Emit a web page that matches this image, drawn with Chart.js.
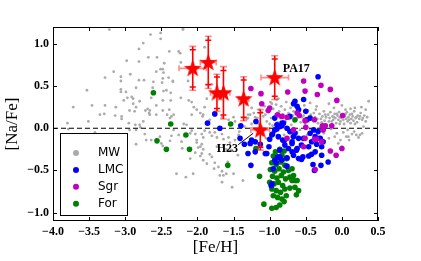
<!DOCTYPE html>
<html><head><meta charset="utf-8">
<script src="https://cdn.jsdelivr.net/npm/chart.js@4.4.0/dist/chart.umd.min.js"></script>
<style>html,body{margin:0;padding:0;background:#fff;}#wrap{width:421px;height:261px;}</style>
</head><body><div id="wrap"><canvas id="c" width="421" height="261"></canvas></div>
<script>
const xTicks=[-4.0,-3.5,-3.0,-2.5,-2.0,-1.5,-1.0,-0.5,0.0,0.5];
const yTicks=[-1.0,-0.5,0.0,0.5,1.0];
const seriesNames=['MW','LMC','Sgr','For'];

const mwPoints=[
[-3.22,1.17],[-2.65,1.11],[-2.51,1.13],[-2.51,1.06],[-2.20,1.17],[-2.75,1.01],[-2.81,0.94],[-2.39,0.91],[-2.26,0.91],[-2.98,0.80],[-2.81,0.79],[-2.68,0.84],[-2.56,0.84],[-2.46,0.77],[-2.51,0.70],[-2.48,0.70],[-2.57,0.67],[-2.47,0.66],[-2.23,0.78],[-3.16,0.67],[-2.93,0.64],[-3.06,0.61],[-3.28,0.60],[-3.06,0.56],[-2.81,0.57],[-2.74,0.57],[-2.61,0.55],[-2.40,0.60],[-2.34,0.55],[-2.48,0.59],[-2.13,0.56],[-3.53,0.45],[-2.85,0.48],[-2.62,0.48],[-3.06,0.46],[-3.06,0.43],[-2.99,0.43],[-2.43,0.45],[-2.37,0.42],[-2.64,0.36],[-2.23,0.36],[-2.97,0.36],[-2.91,0.37],[-2.89,0.35],[-3.02,0.33],[-2.80,0.32],[-2.48,0.33],[-2.37,0.33],[-2.12,0.33],[-2.89,0.29],[-2.57,0.27],[-3.46,0.27],[-3.28,0.27],[-3.13,0.25],[-3.72,0.25],[-2.85,0.25],[-2.69,0.23],[-2.66,0.21],[-2.72,0.21],[-2.94,0.21],[-2.87,0.20],[-2.48,0.21],[-2.39,0.22],[-3.29,0.17],[-3.35,0.16],[-3.14,0.15],[-3.05,0.14],[-3.05,0.11],[-2.67,0.18],[-2.66,0.16],[-2.75,0.08],[-2.57,0.16],[-2.42,0.16],[-2.36,0.14],[-2.38,0.12],[-2.33,0.16],[-2.95,0.06],[-2.86,0.04],[-2.80,0.04],[-3.80,0.06],[-3.51,0.08],[-2.19,0.05],[-2.15,0.04],[-2.20,1.18],[-2.24,0.89],[-2.49,0.54],[-2.34,0.56],[-2.47,0.44],[-1.93,0.14],
[-3.79,-0.01],[-3.42,-0.05],[-3.19,-0.09],[-3.17,-0.14],[-3.25,-0.14],[-3.10,-0.11],[-3.01,-0.14],[-2.94,-0.02],[-2.85,-0.02],[-2.79,0.01],[-2.73,-0.07],[-2.71,-0.14],[-2.85,-0.19],[-2.64,-0.14],[-2.52,-0.10],[-2.50,-0.18],[-2.38,-0.15],[-2.36,-0.09],[-2.48,-0.21],[-2.21,-0.24],[-2.29,-0.54],[-2.16,-0.58],
[-1.90,0.96],[-1.80,0.52],[-1.87,0.35],[-2.08,0.31],[-2.05,0.25],[-2.01,0.22],[-2.08,0.16],[-1.96,0.18],[-1.92,0.16],[-1.90,0.25],[-1.83,0.10],[-1.66,0.13],[-1.57,0.10],[-1.50,0.13],[-1.48,0.08],[-1.32,0.11],[-1.27,0.16],[-1.20,0.13],[-1.18,0.10],[-1.11,0.19],[-1.06,0.16],[-0.97,0.29],[-0.88,0.35],[-0.90,0.34],
[-2.08,-0.03],[-2.03,-0.07],[-1.94,-0.07],[-1.92,-0.11],[-1.90,-0.03],[-1.83,-0.05],[-1.80,-0.09],[-1.76,-0.05],[-1.73,-0.11],[-1.66,-0.07],[-1.64,-0.13],[-1.57,-0.11],[-2.01,-0.17],[-1.94,-0.19],[-1.99,-0.23],[-1.92,-0.25],[-2.03,-0.29],[-1.96,-0.33],[-1.83,-0.31],[-1.64,-0.21],[-1.60,-0.25],[-1.55,-0.17],[-1.76,-0.41],[-1.71,-0.46],[-1.66,-0.51],[-1.64,-0.56],[-1.60,-0.54],[-1.66,-0.64],[-1.50,-0.54],
[-2.33,-0.02],[-2.26,-0.08],[-2.22,-0.16],[-2.10,-0.06],[-2.01,-0.14],[-1.96,-0.22],[-1.94,-0.30],[-1.92,-0.38],[-1.87,-0.42],[-1.80,-0.34],[-1.77,-0.48],[-1.69,-0.56],[-1.73,-0.22],[-1.53,-0.26],[-1.48,-0.14],[-1.43,-0.08],[-2.06,-0.54],[-2.10,-0.36],
[-1.32,0.28],[-1.25,0.24],[-1.30,0.16],[-1.18,0.09],[-1.20,-0.18],[-1.25,-0.20],[-1.35,0.02],[-1.42,-0.04],[-1.15,0.05],[-1.10,-0.08],[-1.05,-0.12],[-1.00,0.05],[-1.44,-0.32],[-1.37,-0.62],[-1.52,-0.70],[-1.58,-0.40],
[-1.30,0.12],[-1.25,0.05],[-1.22,0.18],[-1.17,0.12],[-1.14,0.22],[-1.12,0.02],[-1.09,0.14],[-1.07,0.26],[-1.04,0.08],[-1.02,0.19],[-0.99,0.31],[-0.98,0.12],[-0.96,0.03],[-0.95,0.23],[-0.92,0.16],[-0.91,0.28],[-0.89,0.07],[-0.87,0.20],[-0.86,0.12],[-0.84,0.26],[-0.83,0.02],[-0.81,0.16],[-0.79,0.22],[-0.78,0.08],[-0.77,0.31],[-0.74,0.18],[-0.73,0.11],[-0.71,0.24],[-0.70,0.04],[-0.68,0.15],[-0.67,0.20],[-0.66,0.08],[-0.64,0.27],
[-0.63,0.11],[-0.59,0.19],[-0.57,0.07],[-0.53,0.15],[-0.49,0.12],[-0.47,0.21],[-0.46,0.08],[-0.43,0.16],[-0.41,0.10],[-0.37,0.13],[-0.36,0.22],[-0.33,0.06],[-0.31,0.17],[-0.29,0.11],[-0.27,0.14],[-0.25,0.20],[-0.24,0.09],[-0.22,0.13],[-0.21,0.04],[-0.19,0.16],[-0.17,0.12],[-0.16,0.19],[-0.14,0.08],[-0.13,0.14],[-0.12,0.10],[-0.10,0.17],[-0.09,0.12],[-0.08,0.06],[-0.06,0.15],[-0.05,0.10],[-0.04,0.19],[-0.03,0.13],[-0.02,0.08],[-0.01,0.12],[0.01,0.16],[0.02,0.10],[0.03,0.05],[0.04,0.14],[0.06,0.11],[0.07,0.19],[0.08,0.08],[0.09,0.13],[0.11,0.16],[0.12,0.06],[0.13,0.11],[0.15,0.14],[0.16,0.09],[0.17,0.20],[0.19,0.12],[0.21,0.07],[0.22,0.15],[0.24,0.11],[0.26,0.18],[0.28,0.10],[0.31,0.15],[0.33,0.08],
[-0.55,0.13],[-0.51,0.05],[-0.45,0.14],[-0.39,0.18],[-0.34,0.11],[-0.28,0.07],[-0.23,0.16],[-0.18,0.08],[-0.11,0.13],[-0.07,0.17],[-0.03,0.05],[0.00,0.14],[0.05,0.17],[0.10,0.10],[0.14,0.17],[0.18,0.05],[0.20,0.13],[0.25,0.14],[0.29,0.12],[0.35,0.13],
[-0.52,0.27],[-0.44,0.30],[-0.35,0.26],[-0.18,0.29],[-0.11,0.24],[0.00,0.27],[0.05,0.22],[0.12,0.23],[0.18,0.24],[0.27,0.25],[0.33,0.22],[0.37,0.32],
[-0.58,-0.02],[-0.44,-0.01],[-0.30,0.01],[-0.15,-0.01],[-0.07,-0.06],[0.02,-0.05],[0.08,-0.02],[0.17,-0.04],[0.23,-0.11],[0.30,0.02],[0.14,-0.07],[0.09,-0.10],[0.25,-0.08],
[-0.95,-0.05],[-0.88,-0.12],[-0.80,-0.08],[-0.70,-0.10],[-0.62,-0.05],[-0.55,-0.14],[-0.48,-0.08],[-0.32,-0.10],[-0.25,-0.06],[-0.18,-0.12],[-0.10,-0.10],[-0.02,-0.14],[0.06,-0.10],[0.10,-0.14],[0.20,-0.08],[-0.05,-0.18],[0.00,-0.22],[0.28,-0.06]
];

const lmcPoints=[
[-1.76,0.17],[-1.86,0.06],[-1.69,0.00],[-1.40,0.03],[-1.19,0.08],[-1.41,-0.12],[-1.35,-0.19],[-1.27,-0.18],[-1.30,-0.30],[-1.20,-0.28],[-1.04,-0.30],[-1.26,-0.44],[-0.91,-0.41],[-0.95,-0.48],[-0.98,-0.68],[-1.20,-0.16],[-1.25,-0.14],[-1.13,-0.19],[-1.00,-0.13],[-0.96,-0.07],[-0.90,-0.01],[-0.83,0.03],[-0.80,-0.15],[-0.76,-0.35],[-0.76,-0.45],[-1.06,-0.30],[-1.01,-0.22],[-0.90,0.04],[-0.86,0.02],[-0.81,0.06],[-0.76,0.00],[-0.88,-0.10],[-0.82,-0.14],[-0.72,-0.04],[-0.65,-0.06],[-0.60,-0.12],[-0.69,-0.16],[-0.79,-0.20],[-0.74,-0.24],[-0.86,-0.26],[-0.89,-0.34],[-0.83,-0.38],[-0.63,-0.26],[-0.67,-0.32],[-0.60,-0.36],[-0.56,-0.20],[-0.65,0.32],[-0.60,0.22],[-0.93,0.12],[-0.50,0.20],[-0.44,0.12],[-0.33,-0.04],[-0.26,-0.01],[-0.44,-0.06],[-0.53,-0.12],[-0.37,-0.10],[-0.30,-0.12],[-0.42,-0.16],[-0.35,-0.19],[-0.46,-0.22],[-0.28,-0.22],[-0.67,-0.10],[-0.69,-0.18],[-0.62,-0.24],[-0.26,-0.16],[-0.69,-0.28],[-0.56,-0.37],[-0.46,-0.33],[-0.42,-0.31],[-0.37,-0.28],[-0.28,-0.32],[-0.40,-0.43],[-0.29,-0.44],[-0.19,-0.40],[-0.33,0.61],[-0.53,0.34],[-0.67,0.29],[-0.62,0.26],[-0.39,-0.02],[-0.38,-0.50],[-0.54,-0.34],[-0.86,-0.34],[-0.97,-0.66],[-0.93,-0.38],[-0.49,0.10],[-0.72,0.14],[-0.83,0.06],[-0.93,-0.02],[-0.97,-0.08]
];

const sgrPoints=[
[-1.26,0.47],[-1.12,0.41],[-1.11,0.29],[-1.00,0.24],[-1.02,0.21],[-0.89,0.16],[-0.83,0.14],[-0.76,0.13],[-0.75,0.43],[-0.53,0.56],[-0.29,0.51],[-0.16,0.46],[-0.51,0.44],[-0.34,0.40],[-0.07,0.33],[0.01,0.15],[-0.62,0.18],[-0.59,0.15],[-0.51,0.09],[-0.38,0.10],[-0.27,0.03],[-0.14,0.03],[-0.67,-0.02],[-0.50,0.01],[-0.23,0.03],[-0.26,-0.02],[-0.76,-0.12],[-0.51,-0.12],[-0.38,-0.13],[-0.35,-0.13],[-0.28,-0.16],[0.00,-0.24],[-0.16,-0.27],[-0.08,-0.32],[-0.53,-0.22],[-0.37,-0.49]
];

const forPoints=[
[-2.61,0.42],[-2.37,0.05],[-2.56,-0.15],[-2.43,-0.25],[-2.16,-0.08],[-2.11,-0.25],[-1.58,-0.44],[-1.54,0.05],[-1.19,-0.24],[-1.14,-0.57],[-0.65,0.10],[-0.76,-0.36],
[-0.92,-0.28],[-0.86,-0.25],[-0.80,-0.27],[-0.95,-0.33],[-0.89,-0.35],[-0.83,-0.32],[-0.77,-0.36],[-0.97,-0.41],[-0.91,-0.43],[-0.85,-0.40],[-0.79,-0.44],[-0.99,-0.49],[-0.93,-0.51],[-0.87,-0.48],[-0.81,-0.52],[-0.74,-0.50],[-0.96,-0.57],[-0.90,-0.59],[-0.84,-0.56],[-0.78,-0.60],[-1.00,-0.64],[-0.94,-0.66],[-0.88,-0.64],[-0.82,-0.68],[-0.97,-0.72],[-0.91,-0.74],[-0.85,-0.76],[-0.79,-0.72],[-0.95,-0.80],[-0.89,-0.82],[-0.83,-0.84],[-0.77,-0.80],[-1.08,-0.90],[-0.97,-0.95],[-0.91,-0.94],[-0.86,-0.91],[-0.80,-0.87],[-0.69,-0.48],[-0.67,-0.56],[-0.72,-0.58],[-0.65,-0.62],[-0.69,-0.62],[-0.62,-0.62],[-0.72,-0.71],[-0.65,-0.70],[-0.60,-0.74],[-0.63,-0.79]
];

const starX=[-2.065,-1.85,-1.73,-1.64,-1.36,-1.13,-0.93];
const starY=[0.71,0.78,0.42,0.42,0.35,-0.02,0.60];
const starXErr=[0.19,0.11,0.09,0.09,0.07,0.13,0.19];
const starYErr=[0.26,0.31,0.22,0.31,0.26,0.24,0.26];

const labelTexts=['H23','PA17'];
const labelX=[-1.586,-0.819];
const labelY=[-0.246,0.70];
const leaderFrom=[-1.435,-0.195];
const leaderTo=[-1.228,-0.06];

const colors={MW:'#ababab',LMC:'#0000ff',Sgr:'#bf00bf',For:'#008000',star:'#ff0000'};

function fmt(v){v=Math.round(v*10)/10;return (v<0?'\u2212':'')+Math.abs(v).toFixed(1);}
function toXY(a){return a.map(p=>({x:p[0],y:p[1]}));}

function makeStar(){
  const s=21,c=document.createElement('canvas');c.width=s;c.height=s;
  const g=c.getContext('2d');g.fillStyle=colors.star;g.beginPath();
  const R=9.3,r=3.8,cx=10.5,cy=11;
  for(let i=0;i<10;i++){const a=-Math.PI/2+i*Math.PI/5;const rr=(i%2)?r:R;g.lineTo(cx+rr*Math.cos(a),cy+rr*Math.sin(a));}
  g.closePath();g.fill();return c;
}
const starImg=makeStar();
const STAR_IDX=4, MW_IDX=0;

const decor={
  id:'decor',
  afterDatasetDraw(chart,args){
    if(args.index!==MW_IDX)return;
    const {ctx,chartArea:a,scales:{y}}=chart;
    const py=y.getPixelForValue(0);
    ctx.save();ctx.strokeStyle='#000';ctx.lineWidth=1.1;ctx.setLineDash([5,3]);
    ctx.beginPath();ctx.moveTo(a.left,py);ctx.lineTo(a.right,py);ctx.stroke();ctx.restore();
  },
  beforeDatasetDraw(chart,args){
    if(args.index!==STAR_IDX)return;
    const {ctx,scales:{x,y}}=chart;
    ctx.save();ctx.lineWidth=1.6;
    for(let i=0;i<starX.length;i++){
      const cx=x.getPixelForValue(starX[i]),cy=y.getPixelForValue(starY[i]);
      const x0=x.getPixelForValue(starX[i]-starXErr[i]),x1=x.getPixelForValue(starX[i]+starXErr[i]);
      const y0=y.getPixelForValue(starY[i]-starYErr[i]),y1=y.getPixelForValue(starY[i]+starYErr[i]);
      ctx.strokeStyle='rgba(255,0,0,0.45)';
      ctx.beginPath();ctx.moveTo(x0,cy);ctx.lineTo(x1,cy);
      ctx.moveTo(x0,cy-3);ctx.lineTo(x0,cy+3);ctx.moveTo(x1,cy-3);ctx.lineTo(x1,cy+3);
      ctx.moveTo(cx-3.5,y1);ctx.lineTo(cx+3.5,y1);ctx.moveTo(cx-3.5,y0);ctx.lineTo(cx+3.5,y0);
      ctx.stroke();
      ctx.strokeStyle='#ff0000';
      const yy0=y.getPixelForValue(starY[i]-starYErr[i]*0.85),yy1=y.getPixelForValue(starY[i]+starYErr[i]*0.85);
      ctx.beginPath();ctx.moveTo(cx,y0);ctx.lineTo(cx,y1);
      ctx.moveTo(cx-3,yy1);ctx.lineTo(cx+3,yy1);ctx.moveTo(cx-3,yy0);ctx.lineTo(cx+3,yy0);
      ctx.stroke();
    }
    ctx.restore();
  },
  afterDatasetsDraw(chart){
    const {ctx,chartArea:a,scales:{x,y}}=chart;
    ctx.save();
    ctx.fillStyle='#000';ctx.font='bold 12px "Liberation Serif"';ctx.textBaseline='middle';
    ctx.textAlign='center';ctx.fillText(labelTexts[0],x.getPixelForValue(labelX[0]),y.getPixelForValue(labelY[0]));
    ctx.textAlign='left';ctx.fillText(labelTexts[1],x.getPixelForValue(labelX[1]),y.getPixelForValue(labelY[1]));
    ctx.strokeStyle='#000';ctx.lineWidth=1;ctx.beginPath();
    ctx.moveTo(x.getPixelForValue(leaderFrom[0]),y.getPixelForValue(leaderFrom[1]));
    ctx.lineTo(x.getPixelForValue(leaderTo[0]),y.getPixelForValue(leaderTo[1]));ctx.stroke();
    ctx.lineWidth=1;ctx.strokeStyle='#000';
    ctx.strokeRect(a.left+0.5,a.top+0.5,a.right-a.left-1,a.bottom-a.top-1);
    ctx.beginPath();
    xTicks.forEach(v=>{const p=Math.round(x.getPixelForValue(v))+0.5;ctx.moveTo(p,a.bottom);ctx.lineTo(p,a.bottom-4);ctx.moveTo(p,a.top);ctx.lineTo(p,a.top+4);});
    yTicks.forEach(v=>{const p=Math.round(y.getPixelForValue(v))+0.5;ctx.moveTo(a.left,p);ctx.lineTo(a.left+4,p);ctx.moveTo(a.right,p);ctx.lineTo(a.right-4,p);});
    ctx.stroke();
    const bx=a.left+6.5,bw=67,bh=82,by=a.bottom-6-bh;
    ctx.fillStyle='#fff';ctx.fillRect(bx,by,bw,bh);
    ctx.strokeRect(Math.round(bx)+0.5,Math.round(by)+0.5,bw,bh);
    ctx.font='12px "DejaVu Sans"';ctx.textAlign='left';ctx.textBaseline='middle';
    seriesNames.forEach((n,i)=>{
      const ry=by+20+i*16.9;
      ctx.fillStyle=colors[n];ctx.beginPath();ctx.arc(bx+16.5,ry,3,0,Math.PI*2);ctx.fill();
      ctx.fillStyle='#000';ctx.fillText(n,bx+38.5,ry);
    });
    ctx.restore();
  }
};

const ptCommon={borderWidth:0,pointBorderWidth:0,showLine:false};
new Chart(document.getElementById('c'),{
  type:'scatter',
  data:{datasets:[
    {label:'MW',data:toXY(mwPoints),backgroundColor:colors.MW,pointBackgroundColor:colors.MW,pointRadius:1.4,order:5,...ptCommon},
    {label:'LMC',data:toXY(lmcPoints),backgroundColor:colors.LMC,pointBackgroundColor:colors.LMC,pointRadius:2.8,order:3,...ptCommon},
    {label:'Sgr',data:toXY(sgrPoints),backgroundColor:colors.Sgr,pointBackgroundColor:colors.Sgr,pointRadius:2.8,order:2,...ptCommon},
    {label:'For',data:toXY(forPoints),backgroundColor:colors.For,pointBackgroundColor:colors.For,pointRadius:2.8,order:4,...ptCommon},
    {label:'stars',data:starX.map((v,i)=>({x:v,y:starY[i]})),pointStyle:starImg,pointRadius:9,order:1,...ptCommon}
  ]},
  options:{
    responsive:false,animation:false,devicePixelRatio:1,
    layout:{padding:{left:0,right:43,top:27,bottom:0}},
    plugins:{legend:{display:false},tooltip:{enabled:false}},
    scales:{
      x:{type:'linear',min:-4,max:0.5,
        afterBuildTicks:s=>{s.ticks=xTicks.map(v=>({value:v}));},
        afterFit:s=>{s.height=40;},
        grid:{display:false,drawTicks:false},border:{display:false},
        ticks:{padding:4,color:'#000',autoSkip:false,maxRotation:0,font:{family:'Liberation Serif',size:12,weight:'bold'},callback:v=>fmt(v)},
        title:{display:true,text:'[Fe/H]',color:'#000',font:{family:'Liberation Serif',size:17},padding:{top:0,bottom:3}}},
      y:{type:'linear',min:-1.1,max:1.2,
        afterBuildTicks:s=>{s.ticks=yTicks.map(v=>({value:v}));},
        afterFit:s=>{s.width=53;},
        grid:{display:false,drawTicks:false},border:{display:false},
        ticks:{padding:4,color:'#000',autoSkip:false,font:{family:'Liberation Serif',size:12,weight:'bold'},callback:v=>fmt(v)},
        title:{display:true,text:'[Na/Fe]',color:'#000',font:{family:'Liberation Serif',size:17},padding:{top:2,bottom:0}}}
    }
  },
  plugins:[decor]
});
</script></body></html>
